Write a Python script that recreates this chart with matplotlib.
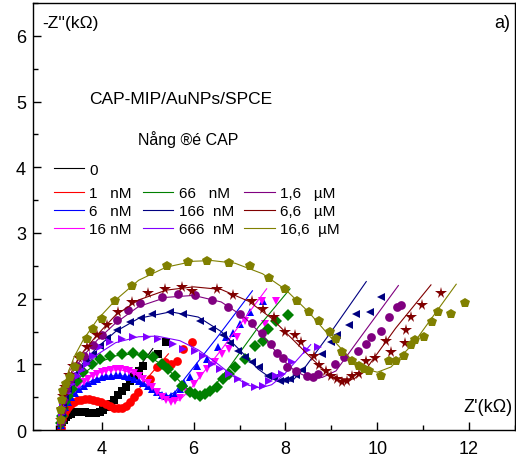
import matplotlib
matplotlib.use("Agg")
import matplotlib.pyplot as plt
from matplotlib.ticker import MultipleLocator

plt.rcParams['font.family'] = ['Liberation Sans', 'DejaVu Sans']

exp_0 = [(3.10, 0.02), (3.12, 0.07), (3.14, 0.12), (3.17, 0.16), (3.21, 0.20), (3.26, 0.23), (3.32, 0.25),
         (3.39, 0.27), (3.47, 0.28), (3.55, 0.28), (3.63, 0.27), (3.71, 0.26), (3.79, 0.26), (3.87, 0.26),
         (3.95, 0.28), (4.03, 0.31), (4.11, 0.35), (4.19, 0.40), (4.27, 0.46), (4.35, 0.53), (4.43, 0.60),
         (4.52, 0.66), (4.61, 0.74), (4.70, 0.82), (4.80, 0.90), (4.89, 0.98), (5.22, 1.15), (5.39, 1.34)]
exp_1n = [(3.10, 0.03), (3.12, 0.10), (3.14, 0.17), (3.17, 0.24), (3.21, 0.30), (3.26, 0.35), (3.32, 0.39),
          (3.39, 0.42), (3.47, 0.45), (3.55, 0.46), (3.63, 0.47), (3.72, 0.47), (3.81, 0.46), (3.90, 0.44),
          (3.99, 0.42), (4.08, 0.39), (4.17, 0.36), (4.26, 0.34), (4.35, 0.33), (4.44, 0.34), (4.53, 0.37),
          (4.62, 0.43), (4.70, 0.50), (4.78, 0.58), (5.04, 0.78), (5.20, 0.96), (5.37, 1.04), (5.50, 1.00),
          (5.63, 1.05), (5.76, 1.24), (5.96, 1.34)]
exp_6n = [(3.11, 0.08), (3.13, 0.18), (3.16, 0.27), (3.20, 0.35), (3.26, 0.43), (3.33, 0.50), (3.41, 0.56),
          (3.50, 0.62), (3.60, 0.67), (3.70, 0.71), (3.80, 0.75), (3.90, 0.78), (4.00, 0.80), (4.10, 0.82),
          (4.20, 0.83), (4.30, 0.84), (4.40, 0.84), (4.50, 0.83), (4.60, 0.81), (4.70, 0.78), (4.80, 0.75),
          (4.90, 0.71), (5.00, 0.67), (5.10, 0.62), (5.20, 0.58), (5.30, 0.54), (5.40, 0.52), (5.50, 0.52),
          (5.60, 0.55), (5.70, 0.62), (5.80, 0.72), (5.91, 0.80), (6.07, 0.98), (6.30, 1.08), (6.52, 1.27),
          (6.70, 1.42), (6.85, 1.47), (7.00, 1.62), (7.22, 1.80), (7.50, 1.97)]
exp_16n = [(3.11, 0.09), (3.13, 0.20), (3.16, 0.30), (3.20, 0.39), (3.26, 0.47), (3.33, 0.55), (3.41, 0.62),
           (3.50, 0.68), (3.60, 0.73), (3.70, 0.78), (3.80, 0.82), (3.90, 0.85), (4.00, 0.88), (4.10, 0.90),
           (4.20, 0.92), (4.30, 0.93), (4.40, 0.93), (4.50, 0.92), (4.60, 0.90), (4.70, 0.87), (4.80, 0.83),
           (4.90, 0.78), (5.00, 0.72), (5.10, 0.65), (5.20, 0.58), (5.30, 0.51), (5.40, 0.46), (5.50, 0.43),
           (5.60, 0.44), (5.70, 0.48), (5.85, 0.58), (6.00, 0.70), (6.13, 0.82), (6.30, 0.93), (6.46, 1.04),
           (6.62, 1.15), (6.78, 1.24), (6.95, 1.42), (7.11, 1.66), (7.48, 1.97), (7.55, 1.62), (7.80, 1.96)]
exp_66n = [(3.11, 0.10), (3.13, 0.22), (3.16, 0.33), (3.20, 0.42), (3.26, 0.52), (3.35, 0.62), (3.46, 0.75),
           (3.59, 0.89), (3.78, 1.00), (3.96, 1.08), (4.17, 1.13), (4.43, 1.16), (4.67, 1.18), (4.89, 1.14),
           (5.11, 1.11), (5.30, 1.01), (5.43, 0.93), (5.59, 0.83), (5.74, 0.67), (5.91, 0.58), (6.02, 0.55),
           (6.13, 0.52), (6.25, 0.55), (6.35, 0.60), (6.50, 0.66), (6.63, 0.78), (6.76, 0.86), (6.89, 0.96),
           (7.11, 1.08), (7.33, 1.28), (7.50, 1.36), (7.61, 1.54), (7.80, 1.66), (8.05, 1.75)]
exp_166n = [(3.11, 0.12), (3.13, 0.26), (3.16, 0.38), (3.20, 0.50), (3.26, 0.62), (3.33, 0.73), (3.42, 0.84),
            (3.52, 0.94), (3.65, 1.05), (3.80, 1.16), (3.96, 1.28), (4.11, 1.40), (4.33, 1.52), (4.61, 1.64),
            (4.85, 1.71), (5.10, 1.76), (5.48, 1.80), (5.76, 1.76), (6.13, 1.66), (6.41, 1.54), (6.63, 1.45),
            (6.80, 1.33), (6.96, 1.21), (7.11, 1.11), (7.26, 1.04), (7.43, 0.96), (7.61, 0.82), (7.76, 0.79),
            (7.87, 0.75), (7.98, 0.76), (8.10, 0.78), (8.22, 0.84), (8.37, 0.92), (8.80, 1.16), (9.00, 1.34),
            (9.13, 1.45), (9.39, 1.60), (9.54, 1.77), (9.85, 1.80), (10.09, 2.03)]
exp_666n = [(3.11, 0.12), (3.13, 0.24), (3.16, 0.35), (3.20, 0.45), (3.27, 0.57), (3.36, 0.70), (3.47, 0.82),
            (3.57, 0.92), (3.67, 1.00), (3.80, 1.13), (3.96, 1.27), (4.17, 1.34), (4.43, 1.39), (4.67, 1.42),
            (4.98, 1.42), (5.22, 1.39), (5.54, 1.31), (5.76, 1.24), (6.02, 1.21), (6.20, 1.13), (6.39, 1.01),
            (6.57, 0.93), (6.78, 0.85), (6.96, 0.78), (7.15, 0.70), (7.33, 0.66), (7.50, 0.67), (7.65, 0.75),
            (7.80, 0.82), (7.93, 0.85), (8.15, 1.04), (8.46, 1.22), (8.70, 1.27)]
exp_1u6 = [(3.11, 0.14), (3.13, 0.30), (3.16, 0.45), (3.22, 0.62), (3.30, 0.78), (3.45, 0.98), (3.60, 1.12),
           (3.80, 1.30), (4.00, 1.45), (4.33, 1.68), (4.57, 1.82), (4.83, 1.93), (5.30, 2.03), (5.65, 2.07),
           (6.02, 2.06), (6.41, 1.98), (6.74, 1.88), (7.02, 1.77), (7.26, 1.63), (7.49, 1.47), (7.68, 1.31),
           (7.82, 1.18), (7.95, 1.10), (8.04, 0.96), (8.24, 0.90), (8.46, 0.82), (8.60, 0.80), (8.70, 0.85),
           (9.07, 1.00), (9.28, 1.11), (9.57, 1.21), (9.76, 1.31), (9.87, 1.42), (10.09, 1.51), (10.26, 1.72),
           (10.43, 1.87), (10.52, 1.90)]
exp_6u6 = [(3.11, 0.15), (3.13, 0.32), (3.15, 0.52), (3.20, 0.66), (3.28, 0.84), (3.38, 0.98), (3.50, 1.10),
           (3.67, 1.27), (3.89, 1.45), (4.11, 1.60), (4.35, 1.80), (4.65, 1.95), (5.00, 2.08), (5.37, 2.15),
           (5.74, 2.18), (5.96, 2.12), (6.50, 2.15), (6.85, 2.05), (7.26, 1.97), (7.50, 1.85), (7.76, 1.72),
           (7.98, 1.49), (8.20, 1.45), (8.33, 1.34), (8.63, 1.13), (8.74, 0.99), (8.89, 0.90), (9.00, 0.82),
           (9.13, 0.78), (9.24, 0.73), (9.35, 0.75), (9.46, 0.82), (9.61, 0.85), (9.76, 1.05), (9.96, 1.10),
           (10.20, 1.36), (10.30, 1.19), (10.61, 1.33), (10.63, 1.53), (10.74, 1.72), (10.98, 1.91), (11.39, 2.08)]
exp_16u6 = [(3.11, 0.15), (3.12, 0.30), (3.14, 0.45), (3.16, 0.60), (3.22, 0.70), (3.30, 0.81), (3.41, 0.96),
            (3.52, 1.13), (3.67, 1.39), (3.80, 1.54), (4.00, 1.69), (4.28, 1.96), (4.65, 2.20), (5.04, 2.40),
            (5.41, 2.50), (5.87, 2.56), (6.30, 2.58), (6.78, 2.55), (7.22, 2.49), (7.65, 2.32), (7.98, 2.15),
            (8.26, 1.97), (8.52, 1.79), (8.74, 1.66), (8.96, 1.50), (9.11, 1.39), (9.24, 1.19), (9.46, 1.05),
            (9.61, 0.98), (9.72, 0.93), (9.83, 0.90), (10.09, 0.82), (10.26, 1.05), (10.41, 1.05), (10.59, 1.13),
            (10.74, 1.30), (10.83, 1.37), (11.02, 1.42), (11.20, 1.65), (11.33, 1.80), (11.61, 1.77), (11.91, 1.94)]

# fitted curves
fit_0 = [(3.10, 0.0), (3.12, 0.10), (3.16, 0.17), (3.22, 0.22), (3.30, 0.26), (3.42, 0.28), (3.55, 0.28),
         (3.70, 0.26), (3.85, 0.26), (4.00, 0.30), (4.20, 0.42), (4.50, 0.68), (4.80, 0.95), (5.11, 1.24)]
fit_1n = [(3.10, 0.0), (3.12, 0.12), (3.16, 0.22), (3.22, 0.30), (3.32, 0.38), (3.45, 0.44), (3.60, 0.47),
          (3.80, 0.46), (4.00, 0.42), (4.20, 0.36), (4.35, 0.33), (4.50, 0.36), (4.70, 0.52), (5.00, 0.80),
          (5.45, 1.16)]
fit_6n = [(3.10, 0.0), (3.12, 0.17), (3.17, 0.32), (3.25, 0.45), (3.40, 0.58), (3.60, 0.69), (3.85, 0.77),
          (4.10, 0.82), (4.40, 0.83), (4.70, 0.79), (4.95, 0.70), (5.20, 0.59), (5.45, 0.52), (5.60, 0.58),
          (5.80, 0.78), (6.50, 1.40), (7.28, 2.12)]
fit_16n = [(3.10, 0.0), (3.12, 0.18), (3.17, 0.34), (3.25, 0.48), (3.40, 0.62), (3.60, 0.75), (3.85, 0.85),
           (4.10, 0.91), (4.40, 0.92), (4.70, 0.86), (4.95, 0.75), (5.20, 0.59), (5.40, 0.47), (5.55, 0.44),
           (5.70, 0.46), (5.90, 0.60), (6.60, 1.22), (7.59, 2.15)]
fit_66n = [(3.10, 0.0), (3.12, 0.20), (3.17, 0.38), (3.25, 0.53), (3.40, 0.70), (3.60, 0.86), (3.90, 1.02),
           (4.30, 1.13), (4.70, 1.16), (5.10, 1.09), (5.40, 0.95), (5.70, 0.74), (5.95, 0.57), (6.15, 0.52),
           (6.35, 0.58), (6.80, 0.98), (7.40, 1.56), (8.10, 2.15)]
fit_166n = [(3.10, 0.0), (3.12, 0.25), (3.17, 0.45), (3.25, 0.62), (3.40, 0.84), (3.60, 1.03), (3.90, 1.26),
            (4.30, 1.50), (4.80, 1.70), (5.50, 1.80), (6.10, 1.72), (6.60, 1.50), (7.00, 1.22), (7.40, 0.93),
            (7.70, 0.78), (7.95, 0.73), (8.15, 0.75), (8.40, 0.93), (9.00, 1.50), (9.76, 2.26)]
fit_666n = [(3.10, 0.0), (3.12, 0.22), (3.17, 0.42), (3.25, 0.58), (3.40, 0.78), (3.60, 0.95), (3.90, 1.15),
            (4.30, 1.33), (4.80, 1.42), (5.20, 1.43), (5.70, 1.36), (6.10, 1.22), (6.50, 1.02), (6.90, 0.80),
            (7.20, 0.68), (7.45, 0.64), (7.70, 0.69), (7.95, 0.83), (8.55, 1.30)]
fit_1u6 = [(3.10, 0.0), (3.12, 0.28), (3.17, 0.52), (3.25, 0.70), (3.40, 0.93), (3.60, 1.13), (3.90, 1.37),
           (4.30, 1.63), (4.80, 1.88), (5.40, 2.02), (6.00, 2.05), (6.60, 1.95), (7.10, 1.72), (7.50, 1.44),
           (7.90, 1.10), (8.20, 0.90), (8.50, 0.80), (8.80, 0.80), (9.10, 0.90), (9.60, 1.38), (10.46, 2.20)]
fit_6u6 = [(3.10, 0.0), (3.12, 0.30), (3.17, 0.55), (3.25, 0.74), (3.40, 0.98), (3.60, 1.20), (3.90, 1.45),
           (4.30, 1.75), (4.80, 1.98), (5.40, 2.13), (6.00, 2.18), (6.60, 2.14), (7.20, 1.96), (7.70, 1.70),
           (8.20, 1.35), (8.60, 1.07), (8.90, 0.88), (9.20, 0.78), (9.50, 0.78), (9.80, 0.97), (10.40, 1.55),
           (11.17, 2.21)]
fit_16u6 = [(3.10, 0.0), (3.12, 0.35), (3.17, 0.62), (3.25, 0.85), (3.40, 1.12), (3.60, 1.38), (3.90, 1.68),
            (4.30, 1.98), (4.80, 2.28), (5.40, 2.48), (6.00, 2.57), (6.40, 2.58), (6.90, 2.54), (7.50, 2.38),
            (8.00, 2.14), (8.50, 1.80), (9.00, 1.40), (9.40, 1.10), (9.75, 0.93), (10.00, 0.88), (10.30, 0.96),
            (10.80, 1.33), (11.72, 2.22)]

labels = ["0", "1   nM", "6   nM", "16 nM", "66   nM", "166  nM", "666  nM", "1,6   \u00b5M", "6,6   \u00b5M", "16,6  \u00b5M"]
colors = ["#000000", "#ff0000", "#0000ff", "#ff00ff", "#008000", "#000080", "#8000ff", "#800080", "#800000", "#808000"]
markers = ["s", "o", "^", "v", "D", "<", ">", "o", "*", "p"]
exp_sets = [exp_0, exp_1n, exp_6n, exp_16n, exp_66n, exp_166n, exp_666n, exp_1u6, exp_6u6, exp_16u6]
fit_sets = [fit_0, fit_1n, fit_6n, fit_16n, fit_66n, fit_166n, fit_666n, fit_1u6, fit_6u6, fit_16u6]
marker_sizes = {"*": 8.5, "p": 7, "o": 6.3}


fig = plt.figure(figsize=(5.16, 4.6), dpi=100)
ax = fig.add_axes([0.064, 0.063, 0.934, 0.928])

handles = []
for pts, fit, c, m, lab in zip(exp_sets, fit_sets, colors, markers, labels):
    ms = marker_sizes.get(m, 6)
    ax.plot([p[0] for p in pts], [p[1] for p in pts], linestyle="none", marker=m, color=c, markersize=ms,
            markeredgewidth=0)
    h, = ax.plot([p[0] for p in fit], [p[1] for p in fit], color=c, linewidth=0.8, label=lab)
    handles.append(h)

ax.set_xlim(2.5, 13)
ax.set_ylim(0, 6.5)
ax.xaxis.set_major_locator(MultipleLocator(2))
ax.xaxis.set_minor_locator(MultipleLocator(1))
ax.yaxis.set_major_locator(MultipleLocator(1))
ax.yaxis.set_minor_locator(MultipleLocator(0.5))
ax.tick_params(which="both", direction="in", labelsize=13, width=1)
ax.tick_params(which="major", length=6)
ax.tick_params(which="minor", length=3.5)
ax.tick_params(axis="x", pad=7)
ax.tick_params(axis="y", pad=5)
ax.set_xticks([4, 6, 8, 10, 12])
for s in ax.spines.values():
    s.set_linewidth(1)

ax.text(0.019, 0.955, "-Z''(k\u03a9)", transform=ax.transAxes, fontsize=12.5, va="center", ha="left")
ax.text(0.99, 0.955, "a)", transform=ax.transAxes, fontsize=13, va="center", ha="right")
ax.text(0.116, 0.776, "CAP-MIP/AuNPs/SPCE", transform=ax.transAxes, fontsize=12.5, va="center", ha="left")
ax.text(0.218, 0.682, "N\u00e5ng \u00ae\u00e9 CAP", transform=ax.transAxes, fontsize=11.5, va="center", ha="left")
ax.text(0.995, 0.054, "Z'(k\u03a9)", transform=ax.transAxes, fontsize=13, va="center", ha="right")

leg0 = ax.legend(handles=handles[:1], loc="upper left", bbox_to_anchor=(0.0425, 0.626), frameon=False,
                 fontsize=11, handlelength=2.0, handletextpad=0.35, borderpad=0, borderaxespad=0)
ax.add_artist(leg0)
ax.legend(handles=handles[1:], loc="upper left", bbox_to_anchor=(0.0425, 0.571), ncol=3, frameon=False,
          fontsize=11, handlelength=2.0, handletextpad=0.35, columnspacing=0.7, labelspacing=0.25,
          borderpad=0, borderaxespad=0)

fig.savefig("out.png", dpi=100)
